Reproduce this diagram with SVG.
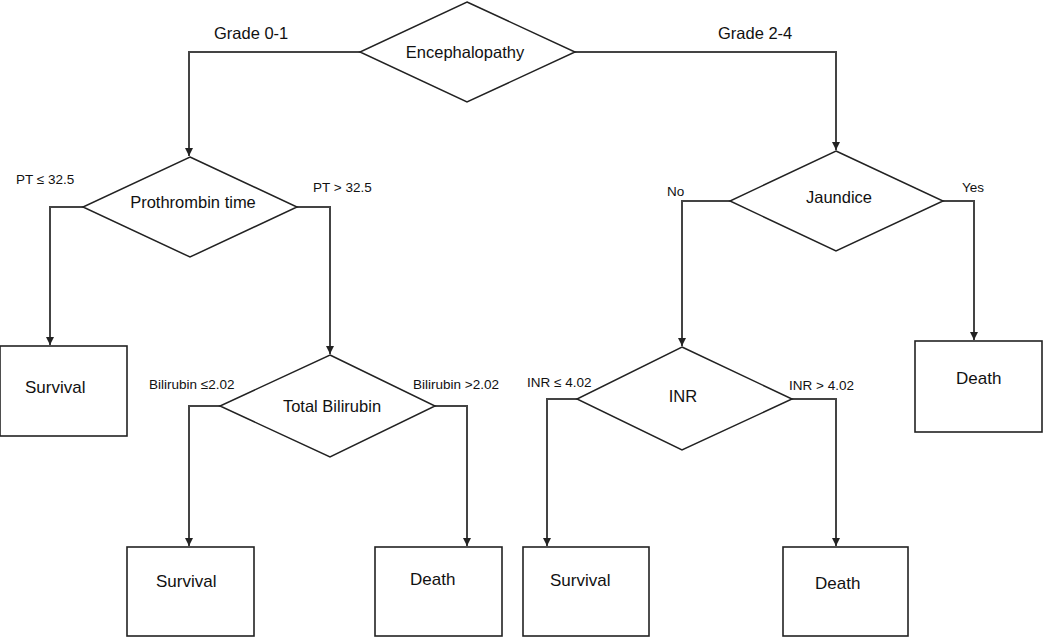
<svg xmlns="http://www.w3.org/2000/svg" width="1050" height="644" viewBox="0 0 1050 644">
<style>
.dia{fill:#fff;stroke:#222;stroke-width:1.5}
.box{fill:#fff;stroke:#222;stroke-width:1.6}
.con{fill:none;stroke:#444;stroke-width:2}
.t{font-family:"Liberation Sans",Arial,sans-serif;font-size:16.5px;fill:#111}
.tb{font-family:"Liberation Sans",Arial,sans-serif;font-size:17px;fill:#111}
.lb{font-family:"Liberation Sans",Arial,sans-serif;font-size:13.5px;fill:#111}
.lg{font-family:"Liberation Sans",Arial,sans-serif;font-size:16.5px;fill:#111}
</style>
<defs>
<marker id="arr" markerWidth="10" markerHeight="10" refX="8" refY="4" orient="auto" markerUnits="userSpaceOnUse">
<path d="M0,0 L8,4 L0,8 Z" fill="#222"/>
</marker>
</defs>
<rect width="1050" height="644" fill="#fff"/>
<g id="connectors">
<path class="con" d="M360,52 H189 V156" marker-end="url(#arr)"/>
<path class="con" d="M575,52 H836 V150" marker-end="url(#arr)"/>
<path class="con" d="M83,207 H50 V345" marker-end="url(#arr)"/>
<path class="con" d="M297,207 H330 V354" marker-end="url(#arr)"/>
<path class="con" d="M220,406 H189 V546" marker-end="url(#arr)"/>
<path class="con" d="M435,406 H467 V546" marker-end="url(#arr)"/>
<path class="con" d="M730,201 H682 V346" marker-end="url(#arr)"/>
<path class="con" d="M943,201 H974 V340" marker-end="url(#arr)"/>
<path class="con" d="M577,399 H547 V546" marker-end="url(#arr)"/>
<path class="con" d="M792,399 H836 V546" marker-end="url(#arr)"/>
<text class="lg" x="214" y="39">Grade 0-1</text>
<text class="lg" x="718" y="39">Grade 2-4</text>
<text class="lb" x="16" y="184">PT ≤ 32.5</text>
<text class="lb" x="313" y="192">PT &gt; 32.5</text>
<text class="lb" x="149" y="389">Bilirubin ≤2.02</text>
<text class="lb" x="413" y="389">Bilirubin &gt;2.02</text>
<text class="lb" x="527" y="387">INR ≤ 4.02</text>
<text class="lb" x="789" y="390">INR &gt; 4.02</text>
<text class="lb" x="667" y="196">No</text>
<text class="lb" x="962" y="192">Yes</text>
</g>
<g id="encephalopathy">
<polygon class="dia" points="467,2 575,52 467,102 360,52"/>
<text class="t" x="465" y="58" text-anchor="middle">Encephalopathy</text>
</g>
<g id="prothrombin">
<polygon class="dia" points="190,157 297,207 190,257 83,207"/>
<text class="t" x="193" y="208" text-anchor="middle">Prothrombin time</text>
</g>
<g id="bilirubin">
<polygon class="dia" points="330,355 435,406 330,457 220,406"/>
<text class="t" x="332" y="412" text-anchor="middle">Total Bilirubin</text>
</g>
<g id="jaundice">
<polygon class="dia" points="836,151 943,201 836,251 730,201"/>
<text class="t" x="839" y="203" text-anchor="middle">Jaundice</text>
</g>
<g id="inr">
<polygon class="dia" points="682,347 792,399 682,450 577,399"/>
<text class="t" x="683" y="402" text-anchor="middle">INR</text>
</g>
<g id="survival1">
<rect class="box" x="0" y="346" width="127" height="90"/>
<text class="tb" x="25" y="393">Survival</text>
</g>
<g id="death1">
<rect class="box" x="915" y="341" width="127" height="91"/>
<text class="tb" x="956" y="384">Death</text>
</g>
<g id="survival2">
<rect class="box" x="127" y="547" width="127" height="89"/>
<text class="tb" x="156" y="587">Survival</text>
</g>
<g id="death2">
<rect class="box" x="375" y="547" width="127" height="89"/>
<text class="tb" x="410" y="585">Death</text>
</g>
<g id="survival3">
<rect class="box" x="523" y="547" width="126" height="89"/>
<text class="tb" x="550" y="586">Survival</text>
</g>
<g id="death3">
<rect class="box" x="783" y="547" width="125" height="89"/>
<text class="tb" x="815" y="589">Death</text>
</g>
</svg>
